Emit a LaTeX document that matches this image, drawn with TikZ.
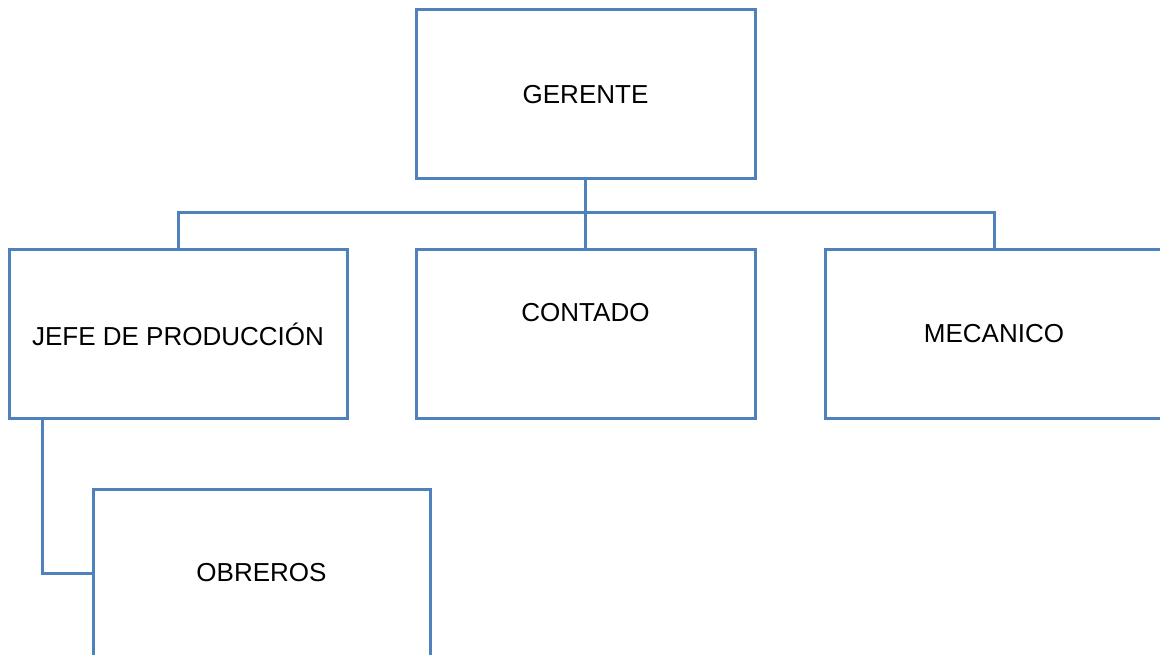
\documentclass[tikz,border=0pt]{standalone}
\usepackage{fontspec}
\setmainfont{Liberation Sans}
\definecolor{boxblue}{RGB}{79,129,189}
\begin{document}
\begin{tikzpicture}[x=1pt,y=-1pt,
  orgbox/.style={draw=boxblue,line width=3pt,fill=white,minimum width=#1,minimum height=168pt,inner sep=0pt,font=\fontsize{26}{30}\selectfont},
  orgbox/.default=338pt,
  conn/.style={draw=boxblue,line width=3pt},
  lbl/.style={font=\fontsize{26}{30}\selectfont,inner sep=0pt}]
\useasboundingbox (0,0) rectangle (1160,655);
\clip (0,0) rectangle (1160,655);
\fill[white] (0,0) rectangle (1160,655);
\node[orgbox=339pt,minimum height=169pt] (ger) at (585.5,94.5) {GERENTE};
\node[orgbox] (jefe) at (178,334) {JEFE DE PRODUCCIÓN};
\node[orgbox=339pt] (cont) at (585.5,334) {};
\node[lbl] (contt) at (585.5,313) {CONTADO};
\node[orgbox] (mec) at (994,334) {MECANICO};
\node[orgbox=337pt] (obr) at (261.5,573) {OBREROS};
\coordinate (bus) at (585.5,213);
\draw[conn] (ger.south) -- (bus);
\draw[conn] (jefe.north) |- (bus) -| (mec.north);
\draw[conn] (bus) -- (cont.north);
\draw[conn] ([xshift=-136pt]jefe.south) |- (obr.west);
\end{tikzpicture}
\end{document}
